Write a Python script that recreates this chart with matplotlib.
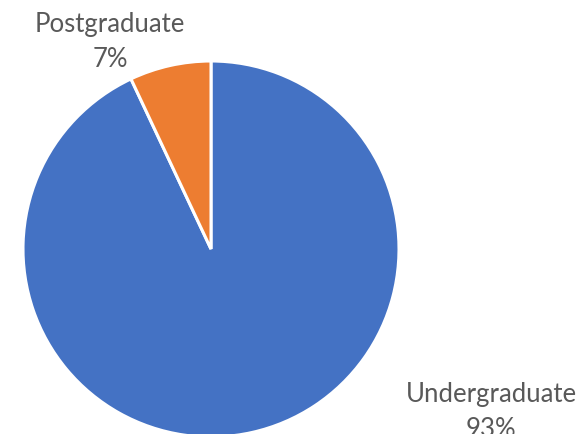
import matplotlib.pyplot as plt

labels = ['Undergraduate', 'Postgraduate']
shares = [93, 7]
colors = ['#4472C4', '#ED7D31']

W, H = 580, 435
fig = plt.figure(figsize=(W / 100, H / 100), dpi=100)
ax = fig.add_axes([0, 0, 1, 1])

# pie centre / radius in pixel units
cx, cy, r = 211, H - 250, 188
ax.pie(shares, colors=colors, startangle=90, counterclock=False,
       center=(cx, cy), radius=r, frame=True,
       wedgeprops=dict(edgecolor='white', linewidth=2.2))
ax.set_xlim(0, W)
ax.set_ylim(0, H)
ax.set_aspect('equal')
ax.axis('off')

txt = dict(fontsize=18.5, color='#595959', family=['Lato', 'DejaVu Sans'],
           ha='center', va='baseline')
label_pos = {'Postgraduate': (110, H - 32), 'Undergraduate': (491, H - 402)}
for name, val in zip(labels, shares):
    x, y = label_pos[name]
    ax.text(x, y, name, **txt)
    ax.text(x, y - 35, f'{val}%', **txt)

fig.savefig('out.png', dpi=100)
